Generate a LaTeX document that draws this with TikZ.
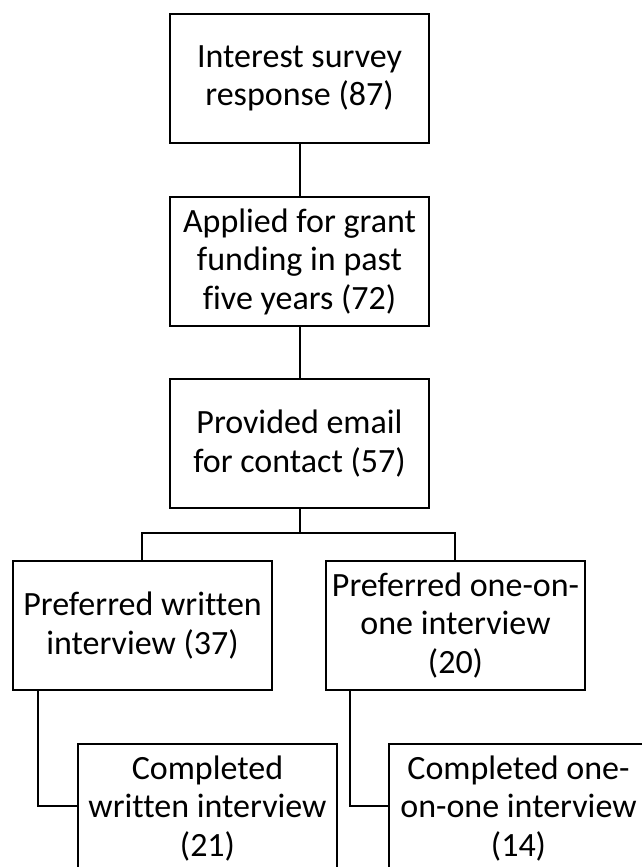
\documentclass[tikz,border=0pt]{standalone}
\usepackage{fontspec}
\setmainfont[Ligatures=NoCommon]{Carlito}
\begin{document}
\begin{tikzpicture}[x=1pt,y=-1pt,
  box/.style={draw=black,line width=2pt,minimum width=259pt,minimum height=129pt,
    inner sep=0pt,align=center,anchor=north west,
    font=\fontsize{34}{38.5}\selectfont},
  link/.style={draw=black,line width=2pt}]
\useasboundingbox (0,0) rectangle (642,867);
\clip (0,0) rectangle (642,867);
\node[box] (b1) at (169,13) {Interest survey\\response (87)};
\node[box] (b2) at (169,196) {Applied for grant\\funding in past\\five years (72)};
\node[box] (b3) at (169,378) {Provided email\\for contact (57)};
\node[box] (b4) at (12,560) {Preferred written\\interview (37)};
\node[box] (b5) at (325,560) {Preferred one-on-\\one interview\\(20)};
\node[box] (b6) at (77,743) {Completed\\written interview\\(21)};
\node[box] (b7) at (388,743) {Completed one-\\on-one interview\\(14)};
\coordinate (j) at (b3.south |- 0,533);
\coordinate (jl) at (142,560);
\coordinate (jr) at (455,560);
\coordinate (c4) at (38,689);
\coordinate (c5) at (350,689);
\draw[link] (b1.south) -- (b2.north);
\draw[link] (b2.south) -- (b3.north);
\draw[link] (b3.south) -- (j);
\draw[link] (jl) |- (j) -| (jr);
\draw[link] (c4) |- (b6.west |- 0,806);
\draw[link] (c5) |- (b7.west |- 0,806);
\end{tikzpicture}
\end{document}
